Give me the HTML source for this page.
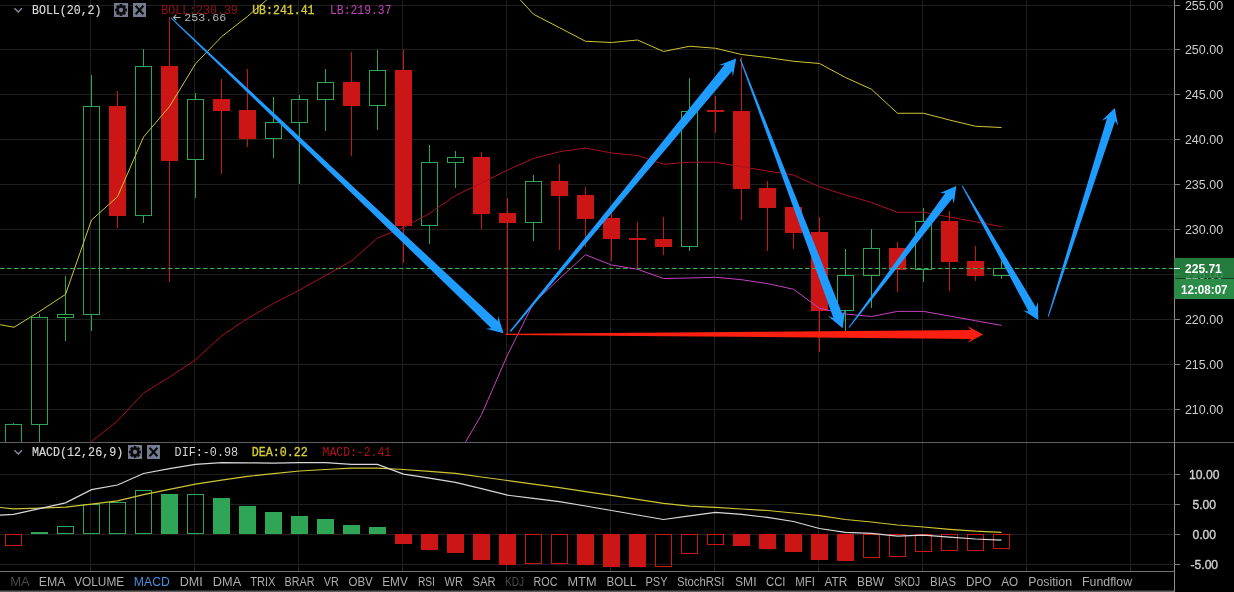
<!DOCTYPE html>
<html><head><meta charset="utf-8"><title>Chart</title>
<style>html,body{margin:0;padding:0;background:#000;overflow:hidden}svg{display:block;will-change:transform}text{font-family:"Liberation Sans",sans-serif}.m{font-family:"Liberation Mono",monospace;font-size:12px}.t{font-size:12px;fill:#adadad}.ax{font-size:12px;fill:#cdcdcd;text-anchor:middle}</style></head><body>
<svg width="1234" height="592" viewBox="0 0 1234 592">
<rect x="0" y="0" width="1234" height="592" fill="#000"/>
<g stroke="#1f1f1f" stroke-width="1" shape-rendering="crispEdges">
<line x1="0" y1="5.5" x2="1174" y2="5.5"/>
<line x1="0" y1="49.5" x2="1174" y2="49.5"/>
<line x1="0" y1="94.5" x2="1174" y2="94.5"/>
<line x1="0" y1="139.5" x2="1174" y2="139.5"/>
<line x1="0" y1="184.5" x2="1174" y2="184.5"/>
<line x1="0" y1="229.5" x2="1174" y2="229.5"/>
<line x1="0" y1="274.5" x2="1174" y2="274.5"/>
<line x1="0" y1="319.5" x2="1174" y2="319.5"/>
<line x1="0" y1="364.5" x2="1174" y2="364.5"/>
<line x1="0" y1="409.5" x2="1174" y2="409.5"/>
<line x1="90.5" y1="0" x2="90.5" y2="442"/>
<line x1="90.5" y1="443" x2="90.5" y2="571"/>
<line x1="194.5" y1="0" x2="194.5" y2="442"/>
<line x1="194.5" y1="443" x2="194.5" y2="571"/>
<line x1="298.5" y1="0" x2="298.5" y2="442"/>
<line x1="298.5" y1="443" x2="298.5" y2="571"/>
<line x1="402.5" y1="0" x2="402.5" y2="442"/>
<line x1="402.5" y1="443" x2="402.5" y2="571"/>
<line x1="506.5" y1="0" x2="506.5" y2="442"/>
<line x1="506.5" y1="443" x2="506.5" y2="571"/>
<line x1="610.5" y1="0" x2="610.5" y2="442"/>
<line x1="610.5" y1="443" x2="610.5" y2="571"/>
<line x1="714.5" y1="0" x2="714.5" y2="442"/>
<line x1="714.5" y1="443" x2="714.5" y2="571"/>
<line x1="818.5" y1="0" x2="818.5" y2="442"/>
<line x1="818.5" y1="443" x2="818.5" y2="571"/>
<line x1="922.5" y1="0" x2="922.5" y2="442"/>
<line x1="922.5" y1="443" x2="922.5" y2="571"/>
<line x1="1026.5" y1="0" x2="1026.5" y2="442"/>
<line x1="1026.5" y1="443" x2="1026.5" y2="571"/>
<line x1="1130.5" y1="0" x2="1130.5" y2="442"/>
<line x1="1130.5" y1="443" x2="1130.5" y2="571"/>
<line x1="0" y1="474.5" x2="1174" y2="474.5"/>
<line x1="0" y1="504.5" x2="1174" y2="504.5"/>
<line x1="0" y1="534.5" x2="1174" y2="534.5"/>
<line x1="0" y1="564.5" x2="1174" y2="564.5"/>
</g>
<defs><clipPath id="cm"><rect x="0" y="0" width="1174" height="442"/></clipPath><clipPath id="cd"><rect x="0" y="443" width="1174" height="128"/></clipPath></defs>
<g clip-path="url(#cm)">
<g shape-rendering="crispEdges">
<line x1="13.5" y1="423" x2="13.5" y2="424" stroke="#2fa556"/>
<line x1="13.5" y1="461" x2="13.5" y2="460" stroke="#2fa556"/>
<rect x="5.5" y="424.5" width="16" height="36" fill="none" stroke="#2fa556"/>
<line x1="39.5" y1="314" x2="39.5" y2="317" stroke="#2fa556"/>
<line x1="39.5" y1="425" x2="39.5" y2="460" stroke="#2fa556"/>
<rect x="31.5" y="317.5" width="16" height="107" fill="none" stroke="#2fa556"/>
<line x1="65.5" y1="276" x2="65.5" y2="314" stroke="#2fa556"/>
<line x1="65.5" y1="318" x2="65.5" y2="341" stroke="#2fa556"/>
<rect x="57.5" y="314.5" width="16" height="3" fill="none" stroke="#2fa556"/>
<line x1="91.5" y1="75" x2="91.5" y2="106" stroke="#2fa556"/>
<line x1="91.5" y1="315" x2="91.5" y2="331" stroke="#2fa556"/>
<rect x="83.5" y="106.5" width="16" height="208" fill="none" stroke="#2fa556"/>
<line x1="117.5" y1="91" x2="117.5" y2="228" stroke="#cc1515"/>
<rect x="109" y="106" width="17" height="110" fill="#cc1515"/>
<line x1="143.5" y1="49" x2="143.5" y2="66" stroke="#2fa556"/>
<line x1="143.5" y1="216" x2="143.5" y2="223" stroke="#2fa556"/>
<rect x="135.5" y="66.5" width="16" height="149" fill="none" stroke="#2fa556"/>
<line x1="169.5" y1="17" x2="169.5" y2="282" stroke="#cc1515"/>
<rect x="161" y="66" width="17" height="95" fill="#cc1515"/>
<line x1="195.5" y1="93" x2="195.5" y2="99" stroke="#2fa556"/>
<line x1="195.5" y1="160" x2="195.5" y2="198" stroke="#2fa556"/>
<rect x="187.5" y="99.5" width="16" height="60" fill="none" stroke="#2fa556"/>
<line x1="221.5" y1="79" x2="221.5" y2="174" stroke="#cc1515"/>
<rect x="213" y="99" width="17" height="12" fill="#cc1515"/>
<line x1="247.5" y1="69" x2="247.5" y2="147" stroke="#cc1515"/>
<rect x="239" y="110" width="17" height="29" fill="#cc1515"/>
<line x1="273.5" y1="97" x2="273.5" y2="122" stroke="#2fa556"/>
<line x1="273.5" y1="139" x2="273.5" y2="158" stroke="#2fa556"/>
<rect x="265.5" y="122.5" width="16" height="16" fill="none" stroke="#2fa556"/>
<line x1="299.5" y1="95" x2="299.5" y2="99" stroke="#2fa556"/>
<line x1="299.5" y1="123" x2="299.5" y2="184" stroke="#2fa556"/>
<rect x="291.5" y="99.5" width="16" height="23" fill="none" stroke="#2fa556"/>
<line x1="325.5" y1="69" x2="325.5" y2="82" stroke="#2fa556"/>
<line x1="325.5" y1="100" x2="325.5" y2="131" stroke="#2fa556"/>
<rect x="317.5" y="82.5" width="16" height="17" fill="none" stroke="#2fa556"/>
<line x1="351.5" y1="52" x2="351.5" y2="156" stroke="#cc1515"/>
<rect x="343" y="82" width="17" height="24" fill="#cc1515"/>
<line x1="377.5" y1="50" x2="377.5" y2="70" stroke="#2fa556"/>
<line x1="377.5" y1="106" x2="377.5" y2="130" stroke="#2fa556"/>
<rect x="369.5" y="70.5" width="16" height="35" fill="none" stroke="#2fa556"/>
<line x1="403.5" y1="50" x2="403.5" y2="263" stroke="#cc1515"/>
<rect x="395" y="70" width="17" height="156" fill="#cc1515"/>
<line x1="429.5" y1="145" x2="429.5" y2="162" stroke="#2fa556"/>
<line x1="429.5" y1="226" x2="429.5" y2="244" stroke="#2fa556"/>
<rect x="421.5" y="162.5" width="16" height="63" fill="none" stroke="#2fa556"/>
<line x1="455.5" y1="151" x2="455.5" y2="157" stroke="#2fa556"/>
<line x1="455.5" y1="163" x2="455.5" y2="188" stroke="#2fa556"/>
<rect x="447.5" y="157.5" width="16" height="5" fill="none" stroke="#2fa556"/>
<line x1="481.5" y1="152" x2="481.5" y2="229" stroke="#cc1515"/>
<rect x="473" y="157" width="17" height="57" fill="#cc1515"/>
<line x1="507.5" y1="198" x2="507.5" y2="334" stroke="#cc1515"/>
<rect x="499" y="213" width="17" height="10" fill="#cc1515"/>
<line x1="533.5" y1="175" x2="533.5" y2="181" stroke="#2fa556"/>
<line x1="533.5" y1="223" x2="533.5" y2="241" stroke="#2fa556"/>
<rect x="525.5" y="181.5" width="16" height="41" fill="none" stroke="#2fa556"/>
<line x1="559.5" y1="164" x2="559.5" y2="250" stroke="#cc1515"/>
<rect x="551" y="181" width="17" height="15" fill="#cc1515"/>
<line x1="585.5" y1="187" x2="585.5" y2="247" stroke="#cc1515"/>
<rect x="577" y="195" width="17" height="24" fill="#cc1515"/>
<line x1="611.5" y1="212" x2="611.5" y2="261" stroke="#cc1515"/>
<rect x="603" y="218" width="17" height="21" fill="#cc1515"/>
<line x1="637.5" y1="222" x2="637.5" y2="269" stroke="#cc1515"/>
<rect x="629" y="238" width="17" height="2" fill="#cc1515"/>
<line x1="663.5" y1="217" x2="663.5" y2="255" stroke="#cc1515"/>
<rect x="655" y="239" width="17" height="8" fill="#cc1515"/>
<line x1="689.5" y1="78" x2="689.5" y2="111" stroke="#2fa556"/>
<line x1="689.5" y1="247" x2="689.5" y2="251" stroke="#2fa556"/>
<rect x="681.5" y="111.5" width="16" height="135" fill="none" stroke="#2fa556"/>
<line x1="715.5" y1="96" x2="715.5" y2="133" stroke="#cc1515"/>
<rect x="707" y="110" width="17" height="2" fill="#cc1515"/>
<line x1="741.5" y1="57" x2="741.5" y2="220" stroke="#cc1515"/>
<rect x="733" y="111" width="17" height="78" fill="#cc1515"/>
<line x1="767.5" y1="181" x2="767.5" y2="251" stroke="#cc1515"/>
<rect x="759" y="188" width="17" height="20" fill="#cc1515"/>
<line x1="793.5" y1="207" x2="793.5" y2="249" stroke="#cc1515"/>
<rect x="785" y="207" width="17" height="26" fill="#cc1515"/>
<line x1="819.5" y1="217" x2="819.5" y2="352" stroke="#cc1515"/>
<rect x="811" y="232" width="17" height="79" fill="#cc1515"/>
<line x1="845.5" y1="249" x2="845.5" y2="275" stroke="#2fa556"/>
<line x1="845.5" y1="311" x2="845.5" y2="332" stroke="#2fa556"/>
<rect x="837.5" y="275.5" width="16" height="35" fill="none" stroke="#2fa556"/>
<line x1="871.5" y1="229" x2="871.5" y2="248" stroke="#2fa556"/>
<line x1="871.5" y1="276" x2="871.5" y2="308" stroke="#2fa556"/>
<rect x="863.5" y="248.5" width="16" height="27" fill="none" stroke="#2fa556"/>
<line x1="897.5" y1="242" x2="897.5" y2="292" stroke="#cc1515"/>
<rect x="889" y="248" width="17" height="22" fill="#cc1515"/>
<line x1="923.5" y1="208" x2="923.5" y2="221" stroke="#2fa556"/>
<line x1="923.5" y1="270" x2="923.5" y2="282" stroke="#2fa556"/>
<rect x="915.5" y="221.5" width="16" height="48" fill="none" stroke="#2fa556"/>
<line x1="949.5" y1="211" x2="949.5" y2="291" stroke="#cc1515"/>
<rect x="941" y="221" width="17" height="41" fill="#cc1515"/>
<line x1="975.5" y1="246" x2="975.5" y2="281" stroke="#cc1515"/>
<rect x="967" y="261" width="17" height="15" fill="#cc1515"/>
<line x1="1001.5" y1="261" x2="1001.5" y2="268" stroke="#2fa556"/>
<line x1="1001.5" y1="276" x2="1001.5" y2="279" stroke="#2fa556"/>
<rect x="993.5" y="268.5" width="16" height="7" fill="none" stroke="#2fa556"/>
</g>
<line x1="0" y1="268.5" x2="1174" y2="268.5" stroke="#34b553" stroke-width="1.2" stroke-dasharray="4.5 2.5"/>
<polyline points="-12.50,323.50 0.50,324.75 14.00,327.25 39.50,311.50 65.50,294.40 91.50,220.00 117.50,196.75 143.50,137.00 169.50,106.50 195.50,63.80 221.50,36.80 247.50,16.40 273.50,-6.00" fill="none" stroke="#cfc634" stroke-width="1"/>
<polyline points="507.50,-14.00 533.50,14.25 559.50,27.70 585.50,41.25 611.50,42.50 637.50,40.00 663.50,51.50 689.50,46.25 715.50,48.25 741.50,54.50 767.50,57.50 793.50,61.25 819.50,63.50 845.50,77.50 871.50,89.25 897.50,113.25 923.50,113.25 949.50,120.00 975.50,126.25 1001.50,127.50" fill="none" stroke="#cfc634" stroke-width="1"/>
<polyline points="91.50,441.50 117.50,421.00 143.50,393.00 169.50,377.00 195.50,359.75 221.50,336.00 247.50,318.50 273.50,303.50 299.50,290.00 325.50,275.50 351.50,261.00 377.50,238.00 403.50,227.50 429.50,213.50 455.50,195.50 481.50,183.00 507.50,170.00 533.50,158.50 559.50,151.75 585.50,148.00 611.50,153.00 637.50,155.50 663.50,164.25 689.50,162.25 715.50,162.25 741.50,166.75 767.50,171.00 793.50,175.00 819.50,186.75 845.50,195.00 871.50,202.50 897.50,212.30 923.50,212.30 949.50,217.00 975.50,221.80 1001.50,226.60" fill="none" stroke="#aa1020" stroke-width="1"/>
<polyline points="455.50,459.00 481.50,414.75 507.50,355.00 533.50,303.00 559.50,278.60 585.50,254.75 611.50,265.00 637.50,269.25 663.50,278.50 689.50,278.00 715.50,277.25 741.50,279.70 767.50,283.60 793.50,289.25 819.50,308.30 845.50,314.00 871.50,316.50 897.50,311.40 923.50,311.40 949.50,316.00 975.50,320.70 1001.50,325.40" fill="none" stroke="#c443c0" stroke-width="1"/>
<polygon points="505.50,334.90 971.00,338.89 967.20,343.09 983.10,334.50 967.20,325.89 971.00,330.09 505.50,333.70" fill="#fa1f10"/>
<polygon points="170.66,18.16 491.34,328.15 485.70,328.72 503.50,333.20 498.09,315.66 497.81,321.33 171.34,17.44" fill="#1e9cff"/>
<polygon points="510.84,331.95 732.14,71.00 732.85,77.04 736.20,58.40 718.52,65.19 724.58,64.75 509.76,331.05" fill="#1e9cff"/>
<polygon points="739.83,59.48 833.40,317.89 827.77,315.75 842.60,328.30 845.34,309.07 842.56,314.41 740.77,59.12" fill="#1e9cff"/>
<polygon points="849.40,327.80 952.38,198.36 953.81,204.09 956.30,185.90 939.46,193.22 945.36,193.05 848.60,327.20" fill="#1e9cff"/>
<polygon points="961.77,186.05 1028.49,311.42 1022.93,310.32 1038.30,320.00 1037.89,301.84 1035.97,307.18 962.63,185.55" fill="#1e9cff"/>
<polygon points="1048.68,316.75 1115.16,121.03 1118.13,125.86 1114.80,108.00 1101.74,120.63 1106.96,118.41 1047.72,316.45" fill="#1e9cff"/>
</g>
<path d="M173.5 17.5H180.6M176.2 14.9L173.5 17.5L176.2 20.1" stroke="#b5b5b5" stroke-width="1.1" fill="none"/>
<text class="m" x="184.3" y="20.6" style="font-size:11.8px" fill="#b9b9b9" textLength="42" lengthAdjust="spacingAndGlyphs">253.66</text>
<path d="M14.5 8.3L18.2 12L21.9 8.3" stroke="#8a93a8" stroke-width="1.25" fill="none"/>
<text class="m" x="32" y="14" fill="#dadada" stroke="#dadada" stroke-width="0.15" textLength="69.5" lengthAdjust="spacingAndGlyphs">BOLL(20,2)</text>
<rect x="114" y="3" width="14" height="14" fill="#757c92"/>
<g fill="#0c0c0c"><rect x="-1.45" y="-5.9" width="2.9" height="11.8" transform="translate(121 10) rotate(0)"/><rect x="-1.45" y="-5.9" width="2.9" height="11.8" transform="translate(121 10) rotate(45)"/><rect x="-1.45" y="-5.9" width="2.9" height="11.8" transform="translate(121 10) rotate(90)"/><rect x="-1.45" y="-5.9" width="2.9" height="11.8" transform="translate(121 10) rotate(135)"/><circle cx="121" cy="10" r="4.6"/></g>
<circle cx="121" cy="10" r="2.15" fill="#757c92"/>
<rect x="133" y="3" width="13" height="14" fill="#757c92"/>
<path d="M135.6 5.7L143.4 14.3M143.4 5.7L135.6 14.3" stroke="#0c0c0c" stroke-width="2.1" fill="none"/>
<text class="m" x="161.3" y="14" fill="#99101c" textLength="76.5" lengthAdjust="spacingAndGlyphs">BOLL:230.39</text>
<text class="m" x="252.2" y="14" fill="#d6cd35" stroke="#d6cd35" stroke-width="0.3" textLength="62.3" lengthAdjust="spacingAndGlyphs">UB:241.41</text>
<text class="m" x="330" y="14" fill="#c443b8" textLength="61.5" lengthAdjust="spacingAndGlyphs">LB:219.37</text>
<rect x="0" y="442" width="1234" height="1" fill="#606060"/>
<g clip-path="url(#cd)">
<g shape-rendering="crispEdges">
<rect x="5.5" y="534.5" width="16" height="11" fill="none" stroke="#cc1515"/>
<rect x="31" y="532" width="17" height="2" fill="#2fa556"/>
<rect x="57.5" y="526.5" width="16" height="7" fill="none" stroke="#2fa556"/>
<rect x="83.5" y="504.5" width="16" height="29" fill="none" stroke="#2fa556"/>
<rect x="109.5" y="502.5" width="16" height="31" fill="none" stroke="#2fa556"/>
<rect x="135.5" y="490.5" width="16" height="43" fill="none" stroke="#2fa556"/>
<rect x="161" y="494" width="17" height="40" fill="#2fa556"/>
<rect x="187.5" y="494.5" width="16" height="39" fill="none" stroke="#2fa556"/>
<rect x="213" y="498" width="17" height="36" fill="#2fa556"/>
<rect x="239" y="506" width="17" height="28" fill="#2fa556"/>
<rect x="265" y="512" width="17" height="22" fill="#2fa556"/>
<rect x="291" y="516" width="17" height="18" fill="#2fa556"/>
<rect x="317" y="519" width="17" height="15" fill="#2fa556"/>
<rect x="343" y="525" width="17" height="9" fill="#2fa556"/>
<rect x="369" y="527" width="17" height="7" fill="#2fa556"/>
<rect x="395" y="534" width="17" height="10" fill="#cc1515"/>
<rect x="421" y="534" width="17" height="16" fill="#cc1515"/>
<rect x="447" y="534" width="17" height="19" fill="#cc1515"/>
<rect x="473" y="534" width="17" height="26" fill="#cc1515"/>
<rect x="499" y="534" width="17" height="31" fill="#cc1515"/>
<rect x="525.5" y="534.5" width="16" height="29" fill="none" stroke="#cc1515"/>
<rect x="551.5" y="534.5" width="16" height="29" fill="none" stroke="#cc1515"/>
<rect x="577" y="534" width="17" height="31" fill="#cc1515"/>
<rect x="603" y="534" width="17" height="33" fill="#cc1515"/>
<rect x="629" y="534" width="17" height="33" fill="#cc1515"/>
<rect x="655.5" y="534.5" width="16" height="32" fill="none" stroke="#cc1515"/>
<rect x="681.5" y="534.5" width="16" height="19" fill="none" stroke="#cc1515"/>
<rect x="707.5" y="534.5" width="16" height="10" fill="none" stroke="#cc1515"/>
<rect x="733" y="534" width="17" height="12" fill="#cc1515"/>
<rect x="759" y="534" width="17" height="15" fill="#cc1515"/>
<rect x="785" y="534" width="17" height="18" fill="#cc1515"/>
<rect x="811" y="534" width="17" height="26" fill="#cc1515"/>
<rect x="837" y="534" width="17" height="27" fill="#cc1515"/>
<rect x="863.5" y="534.5" width="16" height="23" fill="none" stroke="#cc1515"/>
<rect x="889.5" y="534.5" width="16" height="22" fill="none" stroke="#cc1515"/>
<rect x="915.5" y="534.5" width="16" height="17" fill="none" stroke="#cc1515"/>
<rect x="941.5" y="534.5" width="16" height="16" fill="none" stroke="#cc1515"/>
<rect x="967.5" y="534.5" width="16" height="16" fill="none" stroke="#cc1515"/>
<rect x="993.5" y="534.5" width="16" height="14" fill="none" stroke="#cc1515"/>
</g>
<polyline points="-12.50,507.00 0.50,507.50 13.50,508.80 39.50,508.20 65.50,507.20 91.50,504.20 117.50,500.80 143.50,494.70 169.50,489.40 195.50,484.10 221.50,480.20 247.50,476.40 273.50,473.60 299.50,471.00 325.50,469.50 351.50,468.20 377.50,468.20 403.50,469.50 429.50,471.40 455.50,473.40 481.50,477.00 507.50,480.50 533.50,484.10 559.50,487.70 585.50,491.60 611.50,495.40 637.50,499.30 663.50,503.30 689.50,506.20 715.50,507.40 741.50,509.00 767.50,510.50 793.50,513.00 819.50,515.60 845.50,519.50 871.50,522.00 897.50,525.00 923.50,527.00 949.50,529.30 975.50,531.20 1001.50,532.30" fill="none" stroke="#cfc634" stroke-width="1.2"/>
<polyline points="-12.50,515.60 0.50,515.20 13.50,514.40 39.50,508.60 65.50,502.90 91.50,489.60 117.50,485.00 143.50,473.50 169.50,468.60 195.50,464.40 221.50,462.60 247.50,462.80 273.50,463.10 299.50,462.60 325.50,462.60 351.50,464.40 377.50,464.40 403.50,474.10 429.50,478.20 455.50,482.30 481.50,488.70 507.50,495.20 533.50,498.40 559.50,501.60 585.50,506.00 611.50,510.50 637.50,515.00 663.50,519.50 689.50,515.90 715.50,512.30 741.50,514.40 767.50,517.40 793.50,521.50 819.50,528.50 845.50,532.30 871.50,533.30 897.50,536.20 923.50,535.20 949.50,537.20 975.50,539.00 1001.50,540.20" fill="none" stroke="#d8d8d8" stroke-width="1.2"/>
</g>
<path d="M14.5 450.3L18.2 454L21.9 450.3" stroke="#8a93a8" stroke-width="1.25" fill="none"/>
<text class="m" x="32" y="456" fill="#dadada" stroke="#dadada" stroke-width="0.15" textLength="91.2" lengthAdjust="spacingAndGlyphs">MACD(12,26,9)</text>
<rect x="128" y="445" width="14" height="14" fill="#757c92"/>
<g fill="#0c0c0c"><rect x="-1.45" y="-5.9" width="2.9" height="11.8" transform="translate(135 452) rotate(0)"/><rect x="-1.45" y="-5.9" width="2.9" height="11.8" transform="translate(135 452) rotate(45)"/><rect x="-1.45" y="-5.9" width="2.9" height="11.8" transform="translate(135 452) rotate(90)"/><rect x="-1.45" y="-5.9" width="2.9" height="11.8" transform="translate(135 452) rotate(135)"/><circle cx="135" cy="452" r="4.6"/></g>
<circle cx="135" cy="452" r="2.15" fill="#757c92"/>
<rect x="147" y="445" width="13" height="14" fill="#757c92"/>
<path d="M149.6 447.7L157.4 456.3M157.4 447.7L149.6 456.3" stroke="#0c0c0c" stroke-width="2.1" fill="none"/>
<text class="m" x="174.6" y="456" fill="#d4d4d4" textLength="63.5" lengthAdjust="spacingAndGlyphs">DIF:-0.98</text>
<text class="m" x="251.7" y="456" fill="#d6cd35" stroke="#d6cd35" stroke-width="0.3" textLength="56" lengthAdjust="spacingAndGlyphs">DEA:0.22</text>
<text class="m" x="322.6" y="456" fill="#b0101c" textLength="68.5" lengthAdjust="spacingAndGlyphs">MACD:-2.41</text>
<rect x="1174" y="0" width="1" height="592" fill="#8c8c8c"/>
<g stroke="#7a7a7a" stroke-width="1" shape-rendering="crispEdges">
<line x1="1174" y1="5.5" x2="1180" y2="5.5"/>
<line x1="1174" y1="49.5" x2="1180" y2="49.5"/>
<line x1="1174" y1="94.5" x2="1180" y2="94.5"/>
<line x1="1174" y1="139.5" x2="1180" y2="139.5"/>
<line x1="1174" y1="184.5" x2="1180" y2="184.5"/>
<line x1="1174" y1="229.5" x2="1180" y2="229.5"/>
<line x1="1174" y1="274.5" x2="1180" y2="274.5"/>
<line x1="1174" y1="319.5" x2="1180" y2="319.5"/>
<line x1="1174" y1="364.5" x2="1180" y2="364.5"/>
<line x1="1174" y1="409.5" x2="1180" y2="409.5"/>
<line x1="1174" y1="474.5" x2="1180" y2="474.5"/>
<line x1="1174" y1="504.5" x2="1180" y2="504.5"/>
<line x1="1174" y1="534.5" x2="1180" y2="534.5"/>
<line x1="1174" y1="564.5" x2="1180" y2="564.5"/>
</g>
<text class="ax" x="1204" y="10.0" textLength="38.2" lengthAdjust="spacingAndGlyphs">255.00</text>
<text class="ax" x="1204" y="54.0" textLength="38.2" lengthAdjust="spacingAndGlyphs">250.00</text>
<text class="ax" x="1204" y="99.0" textLength="38.2" lengthAdjust="spacingAndGlyphs">245.00</text>
<text class="ax" x="1204" y="144.0" textLength="38.2" lengthAdjust="spacingAndGlyphs">240.00</text>
<text class="ax" x="1204" y="189.0" textLength="38.2" lengthAdjust="spacingAndGlyphs">235.00</text>
<text class="ax" x="1204" y="234.0" textLength="38.2" lengthAdjust="spacingAndGlyphs">230.00</text>
<text class="ax" x="1204" y="279.0" textLength="38.2" lengthAdjust="spacingAndGlyphs">225.00</text>
<text class="ax" x="1204" y="324.0" textLength="38.2" lengthAdjust="spacingAndGlyphs">220.00</text>
<text class="ax" x="1204" y="369.0" textLength="38.2" lengthAdjust="spacingAndGlyphs">215.00</text>
<text class="ax" x="1204" y="414.0" textLength="38.2" lengthAdjust="spacingAndGlyphs">210.00</text>
<text class="ax" x="1204.3" y="479.1" fill="#d2d2d2" stroke="#d2d2d2" stroke-width="0.35" textLength="30.4" lengthAdjust="spacingAndGlyphs">10.00</text>
<text class="ax" x="1204.3" y="509.1" fill="#d2d2d2" stroke="#d2d2d2" stroke-width="0.35" textLength="23.6" lengthAdjust="spacingAndGlyphs">5.00</text>
<text class="ax" x="1204.3" y="539.1" fill="#d2d2d2" stroke="#d2d2d2" stroke-width="0.35" textLength="23.6" lengthAdjust="spacingAndGlyphs">0.00</text>
<text class="ax" x="1204.3" y="569.1" fill="#d2d2d2" stroke="#d2d2d2" stroke-width="0.35" textLength="27.6" lengthAdjust="spacingAndGlyphs">-5.00</text>
<rect x="1174" y="258" width="60" height="20.5" fill="#2a8c46" fill-opacity="0.88"/>
<rect x="1174" y="279" width="60" height="20" fill="#2a8c46"/>
<rect x="1174" y="268" width="6" height="1" fill="#fff"/>
<text x="1203.4" y="272.8" font-size="12" font-weight="bold" fill="#fff" text-anchor="middle" textLength="36.8" lengthAdjust="spacingAndGlyphs">225.71</text>
<text x="1204.3" y="293.8" font-size="12" font-weight="bold" fill="#fff" text-anchor="middle" textLength="46.6" lengthAdjust="spacingAndGlyphs">12:08:07</text>
<rect x="0" y="571" width="1174" height="1" fill="#727272"/>
<rect x="0" y="590.5" width="1174" height="1.5" fill="#5e5e5e"/>
<text class="t" x="10.2" y="585.7" style="fill:#4a4a4a" textLength="19.6" lengthAdjust="spacingAndGlyphs">MA</text>
<text class="t" x="38.8" y="585.7" textLength="26.7" lengthAdjust="spacingAndGlyphs">EMA</text>
<text class="t" x="74.2" y="585.7" textLength="50.0" lengthAdjust="spacingAndGlyphs">VOLUME</text>
<text class="t" x="133.8" y="585.7" style="fill:#4a8fe0" textLength="36.0" lengthAdjust="spacingAndGlyphs">MACD</text>
<text class="t" x="179.8" y="585.7" textLength="23.0" lengthAdjust="spacingAndGlyphs">DMI</text>
<text class="t" x="212.8" y="585.7" textLength="28.4" lengthAdjust="spacingAndGlyphs">DMA</text>
<text class="t" x="250.2" y="585.7" textLength="25.3" lengthAdjust="spacingAndGlyphs">TRIX</text>
<text class="t" x="284.5" y="585.7" textLength="30.0" lengthAdjust="spacingAndGlyphs">BRAR</text>
<text class="t" x="323.8" y="585.7" textLength="15.0" lengthAdjust="spacingAndGlyphs">VR</text>
<text class="t" x="348.5" y="585.7" textLength="24.3" lengthAdjust="spacingAndGlyphs">OBV</text>
<text class="t" x="382.2" y="585.7" textLength="25.6" lengthAdjust="spacingAndGlyphs">EMV</text>
<text class="t" x="417.9" y="585.7" textLength="17.0" lengthAdjust="spacingAndGlyphs">RSI</text>
<text class="t" x="444.5" y="585.7" textLength="18.4" lengthAdjust="spacingAndGlyphs">WR</text>
<text class="t" x="472.5" y="585.7" textLength="23.0" lengthAdjust="spacingAndGlyphs">SAR</text>
<text class="t" x="505.0" y="585.7" style="fill:#4a4a4a" textLength="19.0" lengthAdjust="spacingAndGlyphs">KDJ</text>
<text class="t" x="533.5" y="585.7" textLength="24.0" lengthAdjust="spacingAndGlyphs">ROC</text>
<text class="t" x="567.5" y="585.7" textLength="29.0" lengthAdjust="spacingAndGlyphs">MTM</text>
<text class="t" x="606.5" y="585.7" textLength="29.7" lengthAdjust="spacingAndGlyphs">BOLL</text>
<text class="t" x="645.5" y="585.7" textLength="22.0" lengthAdjust="spacingAndGlyphs">PSY</text>
<text class="t" x="677.0" y="585.7" textLength="47.5" lengthAdjust="spacingAndGlyphs">StochRSI</text>
<text class="t" x="735.0" y="585.7" textLength="21.5" lengthAdjust="spacingAndGlyphs">SMI</text>
<text class="t" x="766.0" y="585.7" textLength="19.5" lengthAdjust="spacingAndGlyphs">CCI</text>
<text class="t" x="795.2" y="585.7" textLength="19.7" lengthAdjust="spacingAndGlyphs">MFI</text>
<text class="t" x="824.5" y="585.7" textLength="22.8" lengthAdjust="spacingAndGlyphs">ATR</text>
<text class="t" x="857.0" y="585.7" textLength="27.0" lengthAdjust="spacingAndGlyphs">BBW</text>
<text class="t" x="894.0" y="585.7" textLength="26.1" lengthAdjust="spacingAndGlyphs">SKDJ</text>
<text class="t" x="930.1" y="585.7" textLength="26.0" lengthAdjust="spacingAndGlyphs">BIAS</text>
<text class="t" x="966.1" y="585.7" textLength="25.4" lengthAdjust="spacingAndGlyphs">DPO</text>
<text class="t" x="1001.2" y="585.7" textLength="17.0" lengthAdjust="spacingAndGlyphs">AO</text>
<text class="t" x="1028.2" y="585.7" textLength="43.8" lengthAdjust="spacingAndGlyphs">Position</text>
<text class="t" x="1082.0" y="585.7" textLength="50.1" lengthAdjust="spacingAndGlyphs">Fundflow</text>
</svg></body></html>
